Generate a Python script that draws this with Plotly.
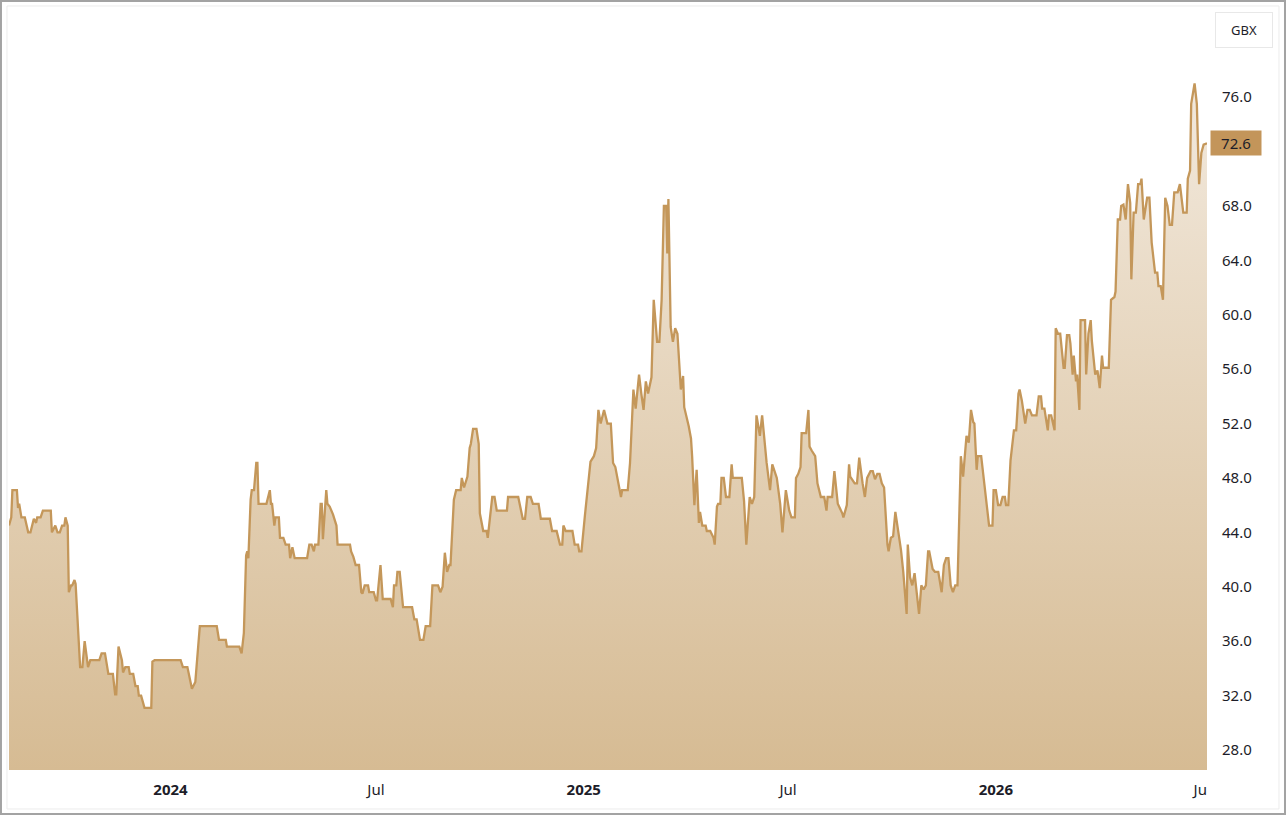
import pandas as pd
import plotly.graph_objects as go

# price history, days counted from the first trading day shown
start_date = "2023-08-11"

days_a = [0, 2, 3, 7, 8, 9, 11, 14, 17, 19, 22, 24, 25, 28, 30, 37, 38, 41, 43, 45,
          47, 49, 50, 52, 53, 55, 56, 58, 59, 61, 63, 65, 67, 70, 72, 80, 82, 85, 88, 92,
          94, 95, 97, 100, 101, 103, 106, 107, 110, 112, 114, 115, 117, 120, 126, 127, 129, 152, 154, 158,
          162, 165, 167, 169, 184, 186, 192, 193, 204]
price_a = [44.5, 45.1, 47.1, 47.1, 45.8, 46.1, 45.1, 45.1, 44.0, 44.0, 45.0, 44.7, 45.1, 45.1, 45.6, 45.6, 44.0, 44.5, 44.0, 44.0,
           44.5, 44.5, 45.1, 44.5, 39.6, 40.1, 40.1, 40.5, 40.2, 37.3, 34.1, 34.1, 36.0, 34.1, 34.6, 34.6, 35.1, 35.1, 33.6, 33.6,
           32.1, 32.1, 35.6, 34.6, 33.7, 34.1, 34.1, 33.6, 33.6, 32.7, 32.7, 32.0, 32.0, 31.1, 31.1, 34.5, 34.6, 34.6, 34.1, 34.1,
           32.5, 33.0, 35.1, 37.1, 37.1, 36.1, 36.1, 35.6, 35.6]

days_b = [206, 208, 210, 211, 212, 214, 215, 217, 219, 220, 221, 228, 231, 232, 233, 235, 236, 239, 240, 243,
          245, 248, 249, 251, 253, 264, 266, 268, 270, 271, 274, 276, 277, 278, 281, 282, 284, 287, 290, 291,
          302, 303, 305, 307, 310, 312, 313, 315, 318, 319, 323, 325, 326, 329, 331, 338, 340, 341, 343, 344,
          346, 349, 357, 359, 361, 364, 367, 369, 373, 375, 380, 382, 384, 386, 388, 390, 391, 394, 396, 400,
          401, 403, 406, 408, 409, 411, 414, 416, 417]
price_b = [35.1, 36.6, 42.3, 42.6, 42.1, 46.4, 47.1, 47.1, 49.1, 49.1, 46.1, 46.1, 47.1, 46.1, 46.1, 44.5, 45.1, 45.1, 43.6, 43.6,
           43.1, 43.1, 42.1, 42.9, 42.1, 42.1, 43.1, 43.1, 42.6, 43.1, 43.1, 46.1, 46.1, 43.5, 47.1, 46.1, 45.9, 45.3, 44.5, 43.1,
           43.1, 42.6, 42.2, 41.6, 41.6, 39.6, 39.5, 40.1, 40.1, 39.6, 39.6, 39.0, 39.0, 41.6, 39.1, 39.1, 38.5, 40.1, 40.1, 41.1,
           41.1, 38.5, 38.5, 37.6, 37.6, 36.1, 36.1, 37.1, 37.1, 40.1, 40.1, 39.6, 40.0, 42.5, 41.1, 41.6, 41.6, 46.4, 47.1, 47.1,
           48.0, 47.3, 48.1, 50.2, 50.5, 51.6, 51.6, 50.5, 45.4]

days_c = [420, 423, 424, 428, 430, 432, 441, 442, 451, 455, 457, 459, 462, 464, 469, 471, 479, 481, 485, 488,
          490, 491, 493, 499, 501, 504, 505, 507, 510, 513, 515, 518, 520, 522, 524, 527, 530, 533, 535, 537,
          540, 542, 543, 548, 550, 553, 555, 558, 560, 562, 564, 566, 569, 571, 574, 576, 578, 580, 582, 583,
          584, 586, 588, 590, 592, 594, 595, 597, 598, 602, 604, 605, 607, 609, 611, 612, 614, 617, 618, 621,
          624, 625, 627, 628, 630, 631, 633, 635, 638, 640, 641]
price_c = [44.1, 44.1, 43.6, 46.6, 46.6, 45.6, 45.6, 46.6, 46.6, 45.0, 45.0, 46.6, 46.6, 46.1, 46.1, 45.0, 45.0, 44.1, 44.1, 43.1,
           43.1, 44.5, 44.1, 44.1, 43.1, 43.1, 42.6, 42.6, 45.2, 47.9, 49.2, 49.6, 50.2, 53.0, 52.0, 53.0, 52.0, 52.0, 49.1, 48.8,
           47.6, 46.6, 47.1, 47.1, 49.1, 54.5, 53.1, 55.6, 54.2, 53.0, 55.1, 54.2, 55.4, 61.1, 58.0, 58.0, 61.1, 68.0, 68.0, 64.5,
           68.5, 59.1, 58.0, 59.0, 58.6, 55.4, 54.5, 55.5, 53.2, 51.8, 50.9, 49.6, 46.0, 48.6, 44.7, 45.5, 44.5, 44.5, 44.1, 44.1,
           43.6, 43.1, 45.9, 46.1, 46.1, 48.0, 48.0, 46.6, 46.6, 49.0, 48.0]

days_d = [649, 651, 653, 656, 658, 660, 662, 665, 667, 671, 674, 676, 680, 683, 685, 688, 691, 693, 696, 697,
          699, 701, 702, 706, 708, 709, 711, 714, 716, 719, 722, 724, 725, 729, 731, 734, 738, 739, 742, 744,
          745, 749, 751, 753, 756, 758, 760, 763, 765, 767, 769, 771, 773, 775, 778, 779, 781, 783, 785, 787,
          790, 792, 795, 796, 798, 800, 802, 806, 808, 810, 812, 814, 815, 818, 820, 823, 825, 826, 828, 830,
          832, 834, 836, 838, 840]
price_d = [48.0, 46.3, 43.1, 46.6, 46.1, 46.6, 52.6, 51.1, 52.6, 49.1, 47.1, 49.0, 48.0, 46.1, 44.0, 47.1, 45.6, 45.1, 45.1, 48.0,
           48.3, 48.8, 51.3, 51.3, 53.0, 50.3, 50.0, 49.6, 47.6, 46.6, 46.6, 45.6, 46.6, 46.6, 48.5, 46.1, 45.4, 45.1, 46.0, 49.0,
           48.1, 47.6, 47.6, 49.5, 47.6, 46.6, 48.0, 48.5, 48.5, 47.9, 48.3, 48.3, 47.6, 47.3, 43.1, 42.6, 43.6, 43.7, 45.5, 44.5,
           42.7, 41.1, 38.0, 43.1, 40.7, 40.1, 41.0, 38.0, 40.1, 39.8, 40.1, 42.6, 42.6, 41.3, 41.1, 41.1, 40.1, 39.6, 41.6, 42.1,
           42.1, 40.1, 39.6, 40.1, 40.1]

days_e = [841, 843, 845, 846, 848, 850, 852, 854, 855, 857, 858, 861, 865, 868, 871, 872, 874, 876, 878, 880,
          882, 883, 885, 887, 890, 892, 894, 895, 897, 900, 902, 904, 906, 910, 912, 914, 915, 917, 920, 921,
          923, 926, 927, 929, 931, 934, 935, 937, 939, 940, 942, 943, 945, 946, 948, 949, 953, 954, 956, 958,
          959, 962, 964, 966, 968, 969, 974, 976, 979, 980, 982, 984, 985, 987, 989, 991, 993, 994, 996, 998,
          1000, 1002, 1003, 1005, 1008, 1010, 1012, 1015, 1017, 1018, 1020, 1022, 1024, 1026, 1028, 1030, 1032, 1035, 1037, 1038,
          1040, 1043, 1044, 1046, 1047, 1050, 1052, 1054, 1056, 1058, 1061]
price_e = [43.6, 49.6, 48.1, 49.0, 51.1, 50.6, 53.0, 52.1, 52.0, 48.6, 49.6, 49.6, 46.9, 44.5, 44.5, 47.1, 47.1, 46.0, 46.0, 46.6,
           46.6, 46.0, 46.0, 49.3, 51.5, 51.5, 54.2, 54.5, 53.7, 52.0, 53.0, 53.0, 52.6, 52.6, 54.0, 54.0, 53.1, 53.1, 51.5, 52.6,
           52.6, 51.5, 59.0, 58.6, 58.6, 56.1, 56.1, 58.5, 58.5, 57.9, 55.6, 57.0, 55.1, 55.6, 53.0, 59.6, 59.6, 55.6, 58.6, 59.6,
           58.1, 55.6, 55.9, 54.6, 57.0, 56.1, 56.1, 61.1, 61.3, 61.7, 67.0, 67.0, 68.0, 68.1, 67.0, 69.6, 68.2, 62.6, 67.5, 67.5,
           69.6, 69.6, 70.0, 67.0, 68.6, 68.6, 65.3, 63.1, 63.1, 62.1, 62.1, 61.1, 68.6, 68.0, 66.6, 66.6, 69.0, 69.0, 69.6, 68.9,
           67.5, 67.5, 70.0, 70.6, 75.5, 77.0, 75.5, 69.6, 71.9, 72.5, 72.6]

tick_dates = ["2024-01-01", "2024-07-01", "2025-01-01", "2025-07-01", "2026-01-01", "2026-07-01"]
tick_text = ["<b>2024</b>", "Jul", "<b>2025</b>", "Jul", "<b>2026</b>", "Ju"]
# 72.0 sits under the last-price tag, so it is not drawn
y_ticks = [28, 32, 36, 40, 44, 48, 52, 56, 60, 64, 68, 76]
currency = "GBX"

days = days_a + days_b + days_c + days_d + days_e
prices = price_a + price_b + price_c + price_d + price_e
assert len(days) == len(prices)
dates = pd.Timestamp(start_date) + pd.to_timedelta(days, unit="D")

LINE = "#c4975a"
TXT = "#1d1d29"

fig = go.Figure(go.Scatter(
    x=dates, y=prices,
    mode="lines",
    line=dict(color=LINE, width=2.3),
    fill="tozeroy",
    fillgradient=dict(type="vertical", start=26.5, stop=77,
                      colorscale=[[0, "#d6bb93"], [1, "#f2e9dd"]]),
    hoverinfo="skip",
))

fig.update_layout(
    width=1286, height=815,
    margin=dict(l=9, r=79, t=10, b=45),
    paper_bgcolor="white",
    plot_bgcolor="white",
    font=dict(family="Noto Sans", size=15, color=TXT),
    showlegend=False,
    xaxis=dict(
        range=[dates[0], dates[-1]],
        tickvals=tick_dates, ticktext=tick_text,
        showgrid=False, zeroline=False, showline=False,
        ticks="", ticklabelstandoff=9,
        tickfont=dict(size=15, color=TXT),
    ),
    yaxis=dict(
        range=[26.53, 82.4], side="right",
        tickvals=y_ticks, tickformat=".1f",
        showgrid=False, zeroline=False, showline=False,
        ticks="", ticklabelstandoff=14,
        tickfont=dict(size=15, color=TXT),
    ),
    annotations=[
        dict(xref="paper", yref="y", x=1, y=prices[-1], xanchor="left", yanchor="middle",
             xshift=3, text=f"{prices[-1]:.1f}", showarrow=False,
             bgcolor="#c3955a", width=46, height=20, borderpad=2,
             font=dict(size=15, color=TXT)),
        dict(xref="paper", yref="paper", x=1.0309, y=0.9737, xanchor="center", yanchor="middle",
             text=currency, showarrow=False, bgcolor="white", bordercolor="#e8e8e8",
             borderwidth=1, borderpad=8, width=40, font=dict(size=13, color=TXT)),
    ],
    shapes=[
        dict(type="rect", xref="paper", yref="paper", x0=-0.0067, x1=1.0651, y0=-0.0579, y1=1.0118,
             line=dict(color="#a3a3a3", width=2), layer="above"),
        dict(type="rect", xref="paper", yref="paper", x0=-0.0017, x1=1.0601, y0=-0.0513, y1=1.0053,
             line=dict(color="#ececec", width=1), layer="above"),
    ],
)

fig.write_html("out.html", config={"displayModeBar": False},
               post_script="document.body.style.margin='0';document.body.style.overflow='hidden';")
